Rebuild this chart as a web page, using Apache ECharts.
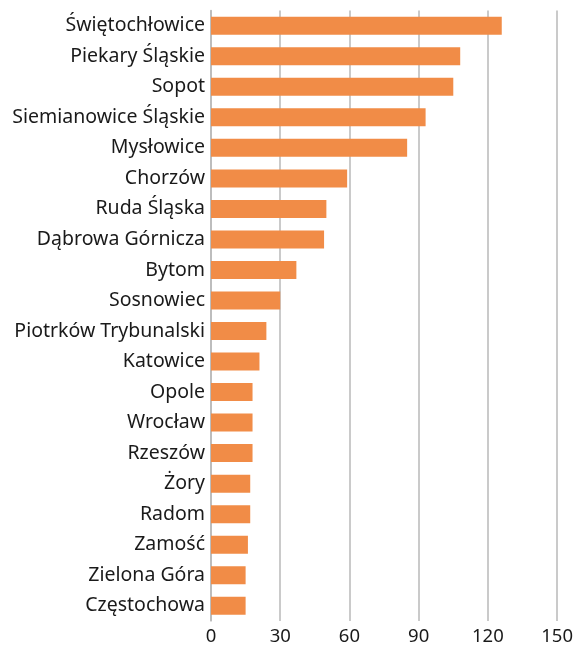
<!DOCTYPE html>
<html><head><meta charset="utf-8">
<script src="https://cdn.jsdelivr.net/npm/echarts@6/dist/echarts.min.js"></script>
<style>html,body{margin:0;padding:0;background:#fff}#c{width:576px;height:646px}</style>
</head><body><div id="c"></div>
<script>
const categories = ["Świętochłowice","Piekary Śląskie","Sopot","Siemianowice Śląskie","Mysłowice","Chorzów","Ruda Śląska","Dąbrowa Górnicza","Bytom","Sosnowiec","Piotrków Trybunalski","Katowice","Opole","Wrocław","Rzeszów","Żory","Radom","Zamość","Zielona Góra","Częstochowa"];
const values = [126,108,105,93,85,59,50,49,37,30,24,21,18,18,18,17,17,16,15,15];
const xTicks = [0,30,60,90,120,150];

const chart = echarts.init(document.getElementById('c'), null, {renderer:'canvas'});
chart.setOption({
  animation:false,
  grid:{left:211,right:16,top:10.5,bottom:25},
  xAxis:{type:'value',min:xTicks[0],max:xTicks[xTicks.length-1],interval:30,
    axisLine:{show:false},axisTick:{show:false},
    axisLabel:{color:'#1a1a1a',fontSize:18.5,fontFamily:'Noto Sans',margin:6},
    splitLine:{show:true,lineStyle:{color:'#b8b8b8',width:1.5}}},
  yAxis:{type:'category',data:categories,inverse:true,
    axisLine:{show:true,lineStyle:{color:'#b8b8b8',width:1.5}},axisTick:{show:false},
    axisLabel:{color:'#1a1a1a',fontSize:19.5,fontFamily:'Noto Sans',margin:6}},
  series:[{type:'bar',data:values,barWidth:18,itemStyle:{color:'#f18c47'}}]
});
</script></body></html>
